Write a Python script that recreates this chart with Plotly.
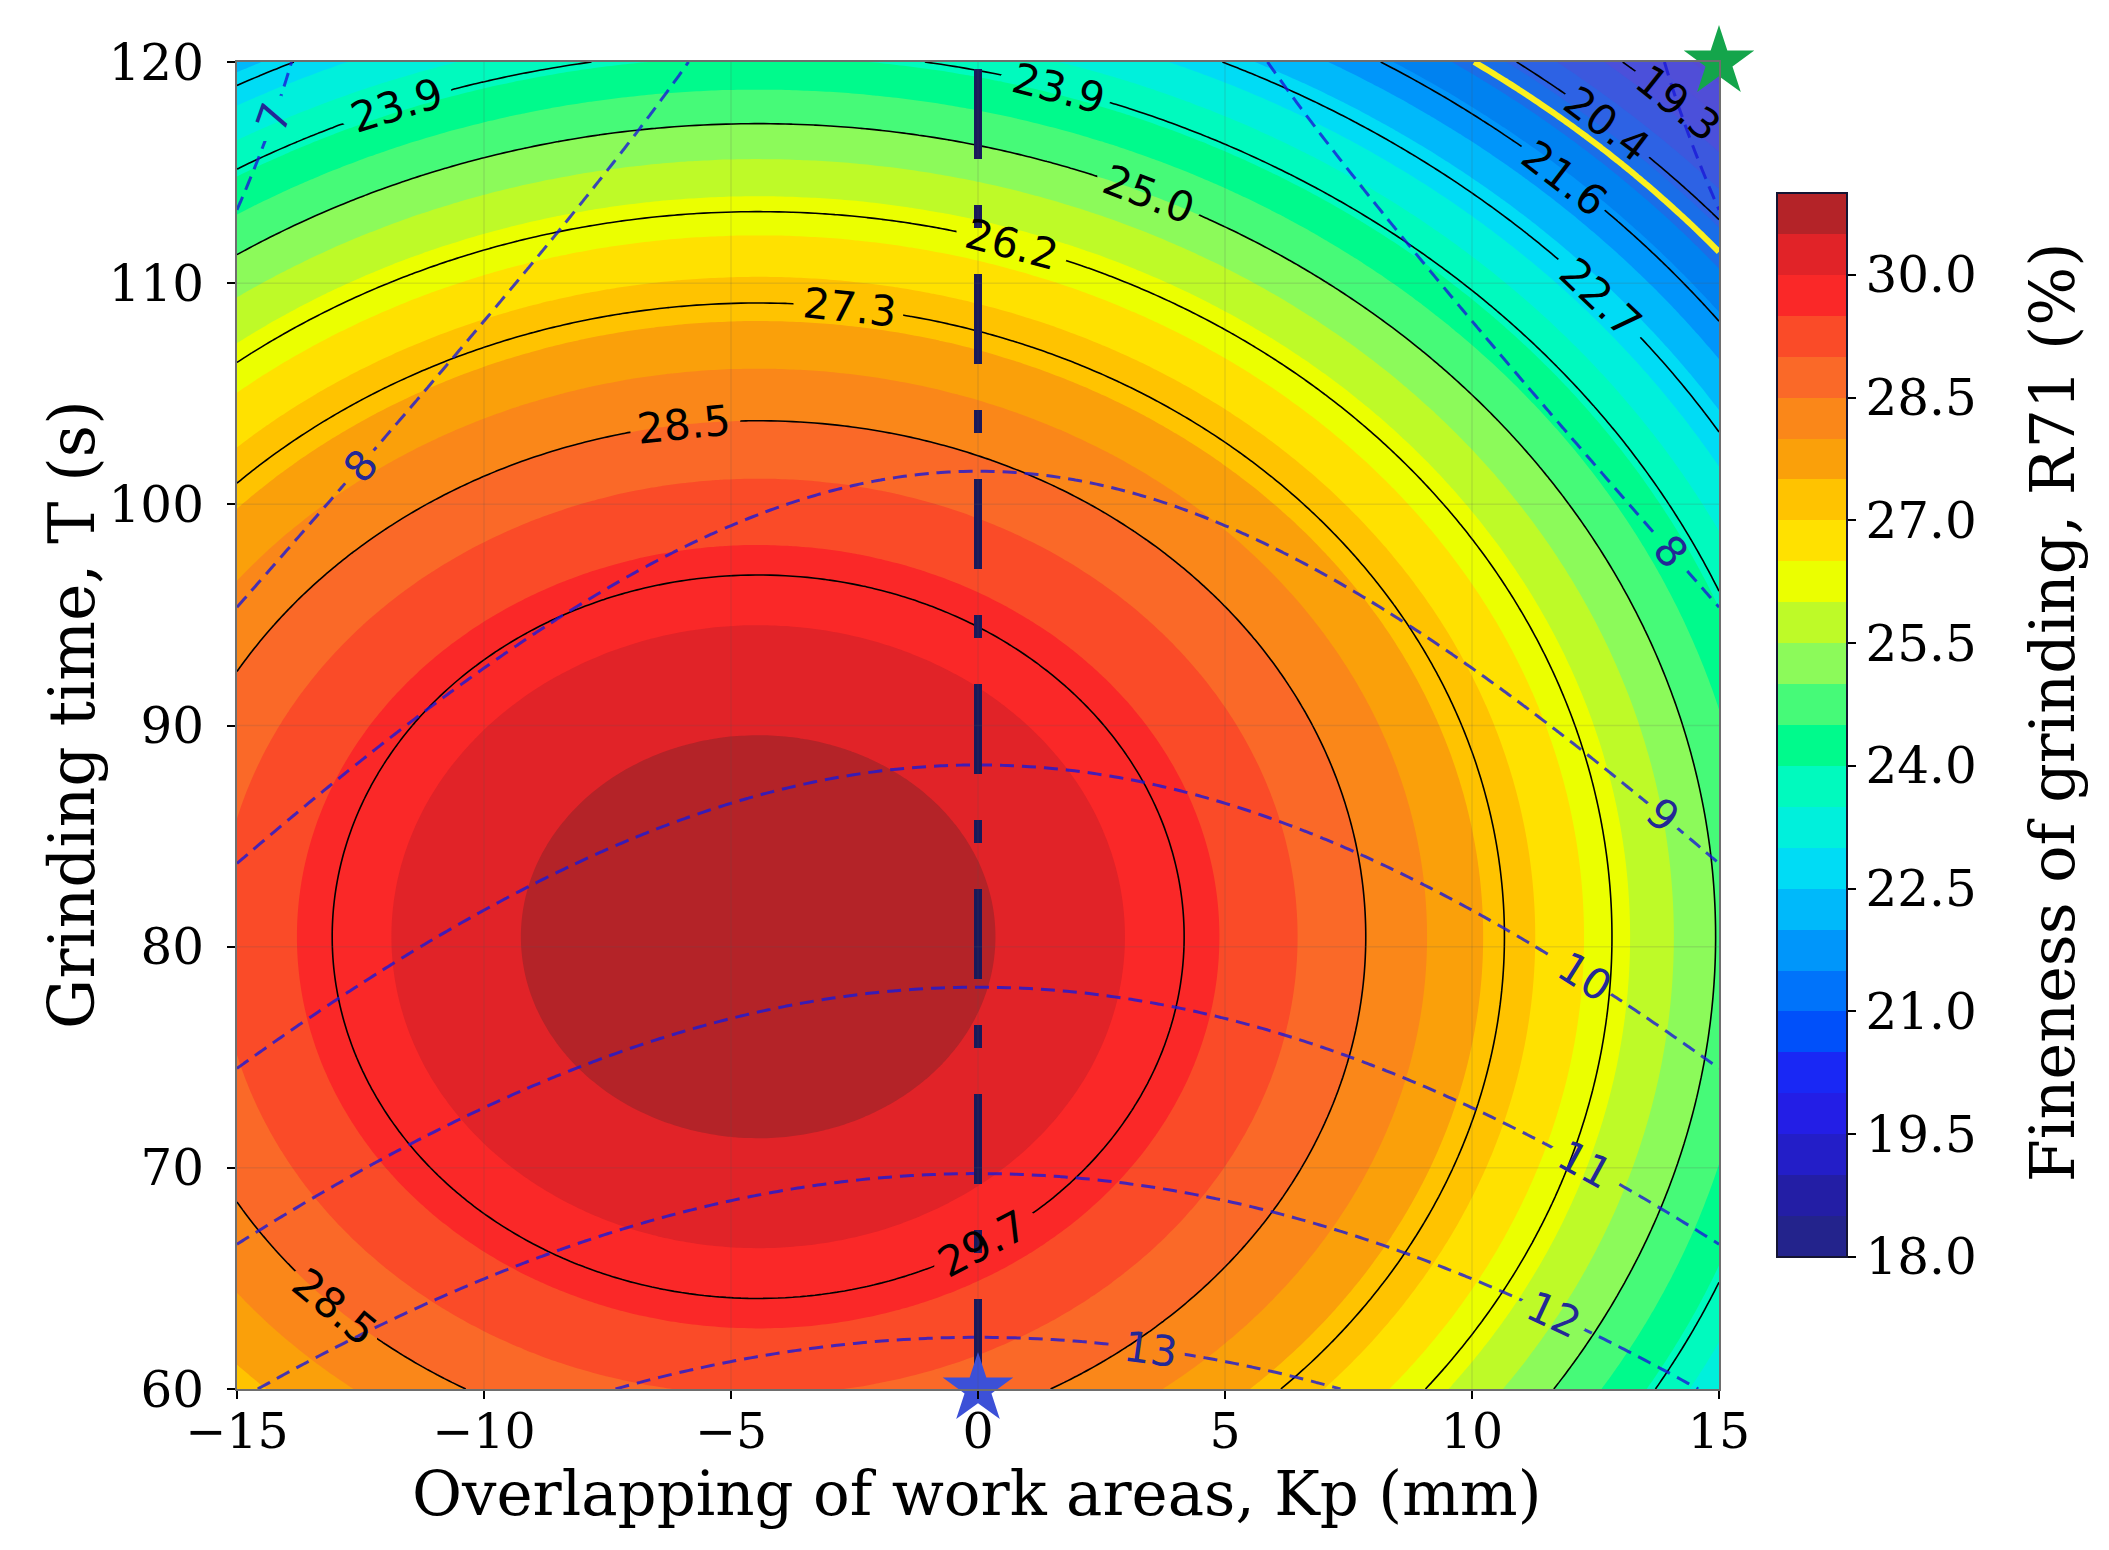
import math
import numpy as np
import plotly.graph_objects as go

# ---------------- data ----------------
kp_ticks = [-15, -10, -5, 0, 5, 10, 15]
t_ticks = [60, 70, 80, 90, 100, 110, 120]
cbar_ticks = [18.0, 19.5, 21.0, 22.5, 24.0, 25.5, 27.0, 28.5, 30.0]

# Fineness of grinding R71 response surface (peak value, centre, curvatures)
r71_peak = 30.86
r71_center_kp = -4.45
r71_center_t = 80.45
r71_curv_kp = 0.0156
r71_curv_t = 0.004336

# second (dashed) response surface: E = e0 + e1*(T-80) + e2*(T-80)^2 - e3*Kp^2
e_coef = [10.802, -0.10612, 0.001037, 0.0063]

r71_line_levels = [19.3, 20.4, 21.6, 22.7, 23.9, 25.0, 26.2, 27.3, 28.5, 29.7]
yellow_level = 20.8
e_line_levels = [7, 8, 9, 10, 11, 12, 13]

# colour-bar band colours, 18.0-18.5 ... 30.5-31.0
band_colors = [
    "rgb(35,35,140)", "rgb(35,30,165)", "rgb(35,30,200)", "rgb(35,30,230)",
    "rgb(25,40,245)", "rgb(0,80,250)", "rgb(0,115,250)", "rgb(0,150,250)",
    "rgb(0,185,250)", "rgb(0,220,245)", "rgb(0,240,220)", "rgb(0,250,190)",
    "rgb(0,250,140)", "rgb(70,250,120)", "rgb(140,250,90)", "rgb(190,250,40)",
    "rgb(235,255,0)", "rgb(255,225,0)", "rgb(255,195,0)", "rgb(250,160,10)",
    "rgb(250,135,25)", "rgb(250,105,40)", "rgb(250,75,40)", "rgb(250,40,40)",
    "rgb(225,35,40)", "rgb(180,35,40)",
]
# the low bands as they appear inside the plot area (lighter than on the bar)
plot_low_band_colors = [
    "rgb(85,75,210)", "rgb(80,78,215)", "rgb(75,80,218)", "rgb(60,88,222)",
    "rgb(45,98,228)", "rgb(25,110,232)", "rgb(0,130,240)",
]
band_start, band_end, band_step = 18.0, 31.0, 0.5

star_kp = [0, 15]
star_t = [60, 120]
star_colors = ["rgb(60,80,215)", "rgb(20,165,75)"]
optimum_kp = 0

# ---------------- layout constants (label spots, geometry) ----------------
r71_label_spots = [  # (level, approx Kp, approx T)
    (19.3, 14.1, 117.9), (20.4, 12.77, 117.26), (21.6, 11.9, 114.83), (22.7, 12.63, 109.36),
    (23.9, -11.74, 117.84), (23.9, 1.65, 118.97), (25.0, 3.46, 114.0), (26.2, 0.71, 111.9),
    (27.3, -2.59, 108.7), (28.5, -5.94, 103.5), (28.5, -12.9, 64.0), (29.7, 0.1, 66.6),
]
e_label_spots = [
    (7, -14.64, 117.8), (8, -12.61, 102.0), (8, 14.2, 98.2), (9, 13.9, 86.0),
    (10, 12.35, 78.9), (11, 12.3, 70.2), (12, 11.7, 63.6), (13, 3.51, 61.95),
]
W, H = 2109, 1550
PL, PR, PT, PB = 229, 1711, 54, 1381
XR, YR = [-15, 15], [60, 120]
sx = (PR - PL) / (XR[1] - XR[0])
sy = (PB - PT) / (YR[1] - YR[0])
LABEL_FS = 42


def r71(x, y):
    return r71_peak - r71_curv_kp * (x - r71_center_kp) ** 2 - r71_curv_t * (y - r71_center_t) ** 2


def r71_grad(x, y):
    return -2 * r71_curv_kp * (x - r71_center_kp), -2 * r71_curv_t * (y - r71_center_t)


def en(x, y):
    return e_coef[0] + e_coef[1] * (y - 80) + e_coef[2] * (y - 80) ** 2 - e_coef[3] * x ** 2


def en_grad(x, y):
    return -2 * e_coef[3] * x, e_coef[1] + 2 * e_coef[2] * (y - 80)


def snap(f, g, level, x, y):
    for _ in range(10):
        v = f(x, y) - level
        gx, gy = g(x, y)
        gpx, gpy = gx / sx, gy / sy
        n2 = gpx * gpx + gpy * gpy
        x -= v * gpx / n2 / sx
        y -= v * gpy / n2 / sy
    return x, y


def text_angle(g, x, y):
    gx, gy = g(x, y)
    gsx, gsy = gx / sx, -gy / sy
    tx, ty = -gsy, gsx
    ang = math.degrees(math.atan2(ty, tx))
    while ang > 90:
        ang -= 180
    while ang <= -90:
        ang += 180
    return ang


def text_width(s, fs):
    return sum((0.318 if ch == "." else 0.636) for ch in s) * fs


# ---------------- grids ----------------
kp = np.linspace(XR[0], XR[1], 201)
t = np.linspace(YR[0], YR[1], 201)
KP, T = np.meshgrid(kp, t)
R = r71(KP, T)
E = en(KP, T)

fig = go.Figure()
annotations = []

# filled bands
fill_colors = plot_low_band_colors + band_colors[len(plot_low_band_colors):]
n_lv = len(fill_colors) - 1
fill_scale = [[i / n_lv, c] for i, c in enumerate(fill_colors)]
fig.add_trace(go.Contour(
    x=kp, y=t, z=R, autocontour=False,
    contours=dict(start=band_start + band_step, end=band_end - band_step, size=band_step,
                  coloring="fill", showlines=False),
    colorscale=fill_scale, showscale=False, line=dict(width=0), hoverinfo="skip"))


def add_level(Z, f, g, level, spots, text, line, font_color):
    Zh = Z.copy()
    for lv, x0, y0 in spots:
        if lv != level:
            continue
        x, y = snap(f, g, level, x0, y0)
        ang = text_angle(g, x, y)
        w = text_width(text, LABEL_FS)
        a = max(w / 2 * abs(math.cos(math.radians(ang))) + 6, 15)
        b = max(w / 2 * abs(math.sin(math.radians(ang))) + 6, 15)
        mask = (np.abs((KP - x) * sx) < a) & (np.abs((T - y) * sy) < b)
        Zh[mask] = np.nan
        annotations.append(dict(x=x, y=y, xref="x", yref="y", text=text, textangle=ang,
                                showarrow=False, xanchor="center", yanchor="middle",
                                font=dict(family="DejaVu Sans", size=LABEL_FS, color=font_color)))
    fig.add_trace(go.Contour(
        x=kp, y=t, z=Zh, autocontour=False, connectgaps=False,
        contours=dict(start=level, end=level, size=1, coloring="none", showlabels=False),
        line=line, showscale=False, hoverinfo="skip"))


for lv in r71_line_levels:
    add_level(R, r71, r71_grad, lv, r71_label_spots, f"{lv:.1f}",
              dict(color="black", width=1.6), "black")

# yellow line
fig.add_trace(go.Contour(
    x=kp, y=t, z=R, autocontour=False,
    contours=dict(start=yellow_level, end=yellow_level, size=1, coloring="none"),
    line=dict(color="rgb(250,240,30)", width=6), showscale=False, hoverinfo="skip"))

for lv in e_line_levels:
    add_level(E, en, en_grad, lv, e_label_spots, f"{lv:d}",
              dict(color="rgba(25,25,215,0.8)", width=3, dash="14px,8px"), "rgb(35,40,150)")

# vertical dash-dot line at the optimum Kp
fig.add_trace(go.Scatter(
    x=[optimum_kp, optimum_kp], y=[t_ticks[0], t_ticks[-1]], mode="lines",
    line=dict(color="rgb(25,25,90)", width=8, dash="90px,46px,23px,46px"),
    hoverinfo="skip", showlegend=False))

# stars
for sxp, syp, sc in zip(star_kp, star_t, star_colors):
    fig.add_trace(go.Scatter(
        x=[sxp], y=[syp], mode="markers", cliponaxis=False,
        marker=dict(symbol="star", size=53, color=sc, line=dict(width=0)),
        hoverinfo="skip", showlegend=False))

# colour bar (discrete bands)
nb = len(band_colors)
cb_scale = []
for i, c in enumerate(band_colors):
    cb_scale.append([i / nb, c])
    cb_scale.append([(i + 1) / nb, c])
fig.add_trace(go.Scatter(
    x=[100, 100], y=[1000, 1000], mode="markers", showlegend=False, hoverinfo="skip",
    marker=dict(color=[band_start, band_end], colorscale=cb_scale, cmin=band_start, cmax=band_end,
                size=1, showscale=True,
                colorbar=dict(thickness=70, thicknessmode="pixels", len=0.8018, lenmode="fraction",
                              x=1.0391, xanchor="left", y=0.0995, yanchor="bottom",
                              xpad=0, ypad=0, outlinewidth=2, outlinecolor="rgb(20,20,50)",
                              tickvals=cbar_ticks, ticktext=[f"{v:.1f}" for v in cbar_ticks],
                              ticks="outside", ticklen=8, tickwidth=2, tickcolor="black",
                              tickfont=dict(family="DejaVu Serif", size=50, color="black")))))

# faint grid lines above the fill
for v in kp_ticks[1:-1]:
    fig.add_shape(type="line", x0=v, x1=v, y0=t_ticks[0], y1=t_ticks[-1], xref="x", yref="y",
                  line=dict(color="rgba(90,90,90,0.15)", width=1.5), layer="above")
for v in t_ticks[1:-1]:
    fig.add_shape(type="line", x0=kp_ticks[0], x1=kp_ticks[-1], y0=v, y1=v, xref="x", yref="y",
                  line=dict(color="rgba(90,90,90,0.15)", width=1.5), layer="above")

axis_common = dict(ticks="outside", ticklen=8, tickwidth=2, tickcolor="black",
                   showgrid=False, zeroline=False, showline=True, linecolor="rgb(110,110,110)",
                   linewidth=2, mirror=True)
fig.update_xaxes(range=XR, tickvals=kp_ticks, ticklabelstandoff=-10,
                 tickfont=dict(family="DejaVu Serif", size=49, color="black"), **axis_common)
fig.update_yaxes(range=YR, tickvals=t_ticks, ticklabelstandoff=13,
                 tickfont=dict(family="DejaVu Serif", size=50, color="black"), **axis_common)

annotations += [
    dict(text="Overlapping of work areas, Kp (mm)", x=0.4987, y=-0.0791, xref="paper", yref="paper",
         showarrow=False, xanchor="center", yanchor="middle",
         font=dict(family="DejaVu Serif", size=61, color="black")),
    dict(text="Grinding time, T (s)", x=-0.1107, y=0.5087, xref="paper", yref="paper",
         showarrow=False, xanchor="center", yanchor="middle", textangle=-90,
         font=dict(family="DejaVu Serif", size=63, color="black")),
    dict(text="Fineness of grinding, R71 (%)", x=1.2247, y=0.5100, xref="paper", yref="paper",
         showarrow=False, xanchor="center", yanchor="middle", textangle=-90,
         font=dict(family="DejaVu Serif", size=62, color="black")),
]

fig.update_layout(
    width=W, height=H,
    margin=dict(l=PL, r=W - PR, t=PT, b=H - PB),
    plot_bgcolor="white", paper_bgcolor="white", showlegend=False,
    annotations=annotations,
)

fig.write_html("out.html")
